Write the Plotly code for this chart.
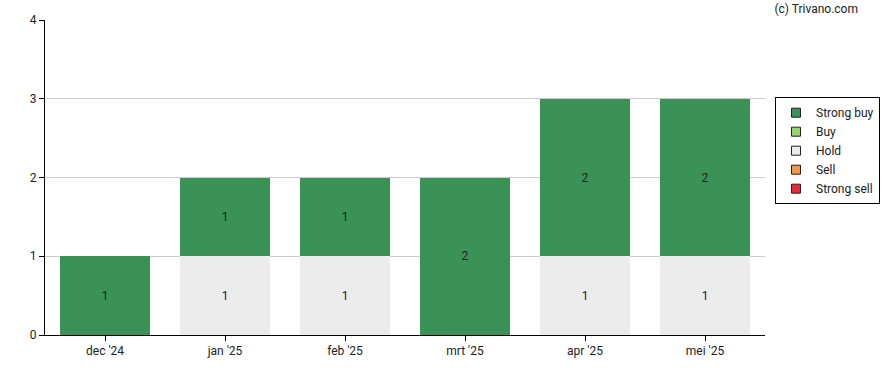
import plotly.graph_objects as go

months = ["dec '24", "jan '25", "feb '25", "mrt '25", "apr '25", "mei '25"]
strong_buy = [1, 1, 1, 2, 2, 2]
buy = [0, 0, 0, 0, 0, 0]
hold = [0, 1, 1, 0, 1, 1]
sell = [0, 0, 0, 0, 0, 0]
strong_sell = [0, 0, 0, 0, 0, 0]

series = [
    ("Strong sell", strong_sell, "#e8283c"),
    ("Sell", sell, "#f79646"),
    ("Hold", hold, "#ececec"),
    ("Buy", buy, "#99d36b"),
    ("Strong buy", strong_buy, "#3a9257"),
]

fig = go.Figure()
for name, vals, color in series:
    fig.add_trace(go.Bar(
        x=months, y=vals, name=name, legendgroup=name, showlegend=False,
        marker=dict(color=color, line=dict(width=0)),
        text=[str(v) if v else "" for v in vals],
        textposition="inside", insidetextanchor="middle",
        textfont=dict(color="#222222", size=12),
        hoverinfo="x+y+name",
    ))
for name, vals, color in series:
    fig.add_trace(go.Scatter(
        x=[None], y=[None], mode="markers", name=name, legendgroup=name,
        marker=dict(symbol="square", size=9, color=color,
                    line=dict(color="#222222", width=1)),
    ))

fig.update_layout(
    barmode="stack",
    bargap=0.25,
    width=888, height=370,
    margin=dict(l=45, r=123, t=20, b=35, autoexpand=False),
    paper_bgcolor="white", plot_bgcolor="white",
    font=dict(family="Roboto, Arial, sans-serif", size=12, color="#222222"),
    legend=dict(
        traceorder="reversed",
        x=1.0139, y=0.755, xanchor="left", yanchor="top",
        bordercolor="#000000", borderwidth=1,
        font=dict(size=12),
        itemwidth=30, tracegroupgap=0,
    ),
    xaxis=dict(
        showline=True, linecolor="#000000", linewidth=1,
        ticks="outside", ticklen=5, tickcolor="#000000",
        showgrid=False, automargin=False,
    ),
    yaxis=dict(
        range=[0, 4], dtick=1,
        showline=True, linecolor="#000000", linewidth=1,
        ticks="outside", ticklen=5, tickcolor="#000000",
        gridcolor="#cccccc", zeroline=False, automargin=False,
    ),
    title=dict(
        text="(c) Trivano.com", xref="container", yref="container",
        x=858 / 888, xanchor="right", y=1 - 9 / 370, yanchor="middle",
        font=dict(size=12, color="#222222"),
    ),
)

fig.write_html("out.html", config={"displayModeBar": False},
               post_script="document.body.style.margin='0px';")
